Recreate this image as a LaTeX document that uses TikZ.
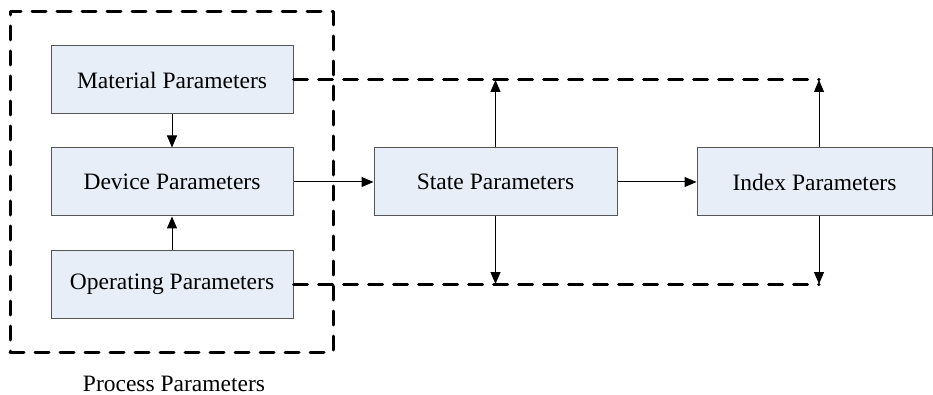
\documentclass[tikz,border=0pt]{standalone}
\usepackage{fontspec}
\setmainfont{Liberation Serif}
\usetikzlibrary{arrows.meta}
\definecolor{boxfill}{RGB}{232,238,247}
\definecolor{boxline}{RGB}{85,85,85}
\begin{document}
\begin{tikzpicture}[x=1pt,y=-1pt,
  box/.style={draw=boxline, line width=1pt, fill=boxfill, minimum width=242pt, minimum height=68pt, inner sep=0pt, font=\fontsize{23.5}{28}\selectfont},
  lbl/.style={inner sep=0pt, font=\fontsize{23.5}{28}\selectfont},
  arr/.style={line width=1pt, -{Triangle[length=12pt,width=10pt]}},
  grp/.style={line width=3pt, dash pattern=on 14pt off 11pt, line cap=round, line join=round}]
\useasboundingbox (0,0) rectangle (933,395);
% group frame
\node[grp, draw, minimum width=323pt, minimum height=340pt, inner sep=0pt] (grpbox) at (171.5,182) {};
% boxes
\node[box] (mat) at (172,80) {Material Parameters};
\node[box] (dev) at (172,182) {Device Parameters};
\node[box] (op) at (172,284) {Operating Parameters};
\node[box, minimum width=243pt] (st) at (495.5,182) {State Parameters};
\node[box, minimum width=235pt] (ix) at (814.5,182) {Index Parameters};
\node[lbl, anchor=base] (pp) at (174,391) {Process Parameters};
% feedback coordinates
\coordinate (ts) at (495.5,80);
\coordinate (ti) at (819,80);
\coordinate (bs) at (495.5,284);
\coordinate (bi) at (819,284);
% dashed lines
\draw[grp] (mat.east) -- (ti);
\draw[grp] (op.east) -- (bi);
% arrows
\draw[arr] (mat) -- (dev);
\draw[arr] (op) -- (dev);
\draw[arr] (dev) -- (st);
\draw[arr] (st) -- (ix);
\draw[arr] (st.north) -- (ts);
\draw[arr] (st.south) -- (bs);
\draw[arr] (ix.north -| ti) -- (ti);
\draw[arr] (ix.south -| bi) -- (bi);
\end{tikzpicture}
\end{document}
